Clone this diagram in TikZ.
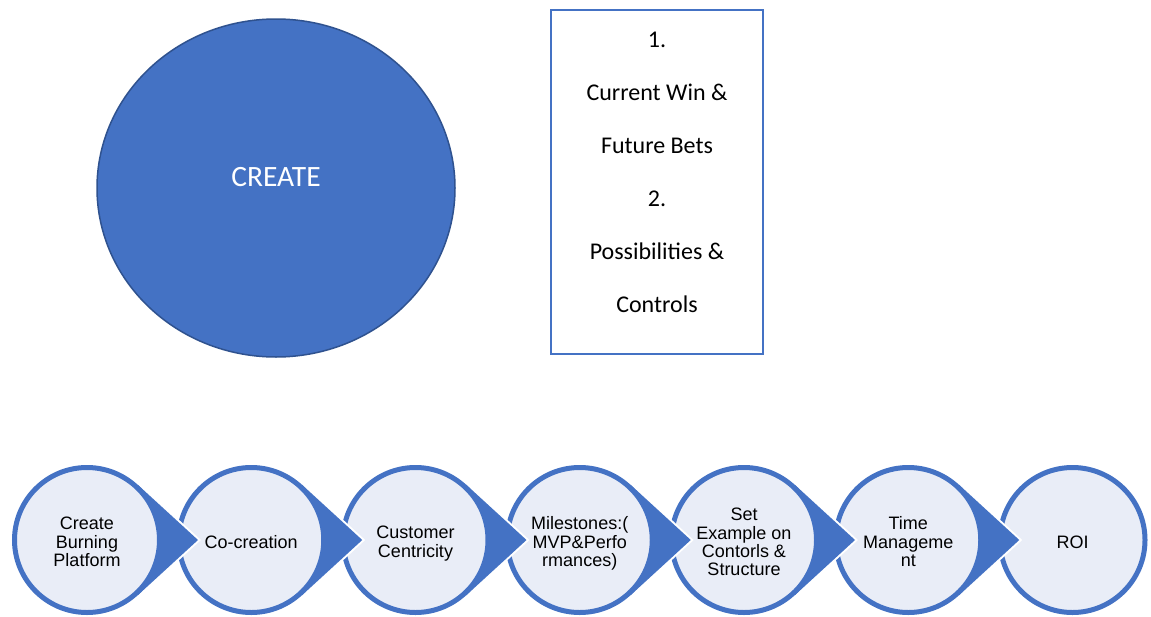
\documentclass[tikz,border=0pt]{standalone}
\usepackage{fontspec}
\setmainfont{Carlito}
\newfontfamily\arialfam{Liberation Sans}
\usetikzlibrary{shapes.geometric,calc}
\definecolor{accent}{HTML}{4472C4}
\definecolor{accentdark}{HTML}{2F528F}
\definecolor{lightfill}{HTML}{E9EDF7}
\newcommand{\drawchev}[1]{%
  \draw[halo] ($(#1)+(50.7,-55.3)$) -- ($(#1)+(111,0)$) -- ($(#1)+(50.7,55.3)$);
  \fill[accent] ($(#1)+(50.7,-55.3)$) -- ($(#1)+(111,0)$) -- ($(#1)+(50.7,55.3)$) -- cycle;}
\newcommand{\steptxt}[1]{\raisebox{0pt}[\dimexpr\height+9pt\relax][\depth]{\begin{tabular}{@{}c@{}}#1\end{tabular}}}
\begin{document}
\begin{tikzpicture}[x=1pt,y=-1pt,
  stepcircle/.style={circle, draw=accent, line width=5pt, fill=lightfill,
    minimum size=145pt, inner sep=0pt, align=center,
    font=\arialfam\fontsize{18}{18.3}\selectfont},
  halo/.style={draw=white, line width=4pt, line join=miter}]
\useasboundingbox (0,0) rectangle (1151,616);
\fill[white] (0,0) rectangle (1151,616);

% big circle
\node[ellipse, draw=accentdark, line width=1.5pt, fill=accent,
  minimum width=358pt, minimum height=338pt, inner sep=0pt, text=white,
  font=\fontsize{29.5}{31}\selectfont] (create) at (276,188) {\raisebox{22pt}{CREATE}};

% text box
\node[draw=accent, line width=2pt, minimum width=212pt, minimum height=344pt] (box) at (657,182) {};
\node[align=center, font=\fontsize{24}{53}\selectfont] (boxtext) at (657,172.5)
  {1.\\Current Win \&\\Future Bets\\2.\\Possibilities \&\\Controls};

% process circles
\coordinate (p1) at (87,540);
\coordinate (p2) at (251.25,540);
\coordinate (p3) at (415.5,540);
\coordinate (p4) at (579.75,540);
\coordinate (p5) at (744,540);
\coordinate (p6) at (908.25,540);
\coordinate (p7) at (1072.5,540);

\node[stepcircle] (c7) at (p7) {\steptxt{ROI}};
\drawchev{p6}
\node[stepcircle] (c6) at (p6) {\steptxt{Time\\Manageme\\nt}};
\drawchev{p5}
\node[stepcircle] (c5) at (p5) {\steptxt{Set\\Example on\\Contorls \&\\Structure}};
\drawchev{p4}
\node[stepcircle] (c4) at (p4) {\steptxt{Milestones:(\\MVP\&Perfo\\rmances)}};
\drawchev{p3}
\node[stepcircle] (c3) at (p3) {\steptxt{Customer\\Centricity}};
\drawchev{p2}
\node[stepcircle] (c2) at (p2) {\steptxt{Co-creation}};
\drawchev{p1}
\node[stepcircle] (c1) at (p1) {\steptxt{Create\\Burning\\Platform}};
\end{tikzpicture}
\end{document}
